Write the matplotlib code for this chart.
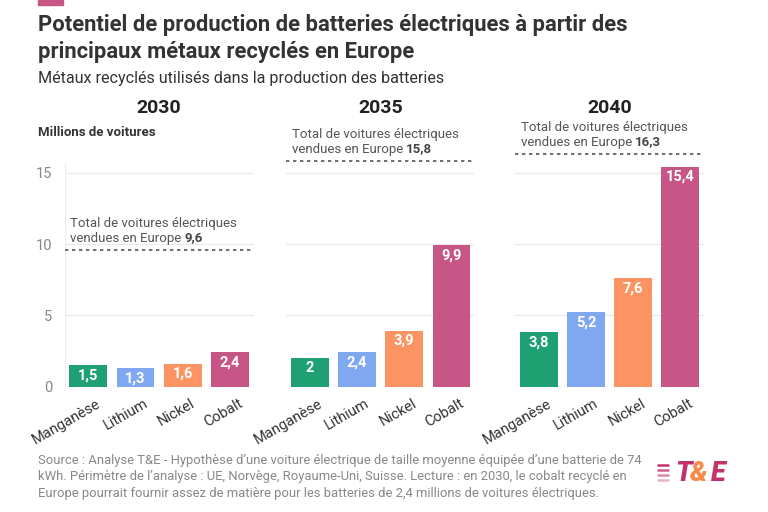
import matplotlib
matplotlib.use("Agg")
import matplotlib.pyplot as plt
from matplotlib.patches import Rectangle
import matplotlib.transforms as mtransforms

plt.rcParams['font.family'] = ['Roboto', 'DejaVu Sans']

# ---- data ----
years = ["2030", "2035", "2040"]
metals = ["Manganèse", "Lithium", "Nickel", "Cobalt"]
values_2030 = [1.5, 1.3, 1.6, 2.4]
values_2035 = [2.0, 2.4, 3.9, 9.9]
values_2040 = [3.8, 5.2, 7.6, 15.4]
totals = [9.6, 15.8, 16.3]
total_labels = ["9,6", "15,8", "16,3"]
yticks = [0, 5, 10, 15]
colors = ["#1fa072", "#80a8f0", "#fc9362", "#c75585"]

all_values = [values_2030, values_2035, values_2040]

W, H = 768, 512
fig = plt.figure(figsize=(W / 100, H / 100), dpi=100)
fig.patch.set_facecolor("white")

def fx(px):
    return px / W

def fy(py):
    return 1 - py / H

# top pink mark
fig.patches.append(Rectangle((fx(38), fy(5)), fx(63) - fx(38), 5 / H,
                             transform=fig.transFigure, color="#c75585"))

fig.text(fx(38), fy(31), "Potentiel de production de batteries électriques à partir des",
         fontsize=15.8, fontweight="bold", color="#333333", va="baseline", ha="left")
fig.text(fx(38), fy(58), "principaux métaux recyclés en Europe",
         fontsize=15.8, fontweight="bold", color="#333333", va="baseline", ha="left")
fig.text(fx(38), fy(83), "Métaux recyclés utilisés dans la production des batteries",
         fontsize=11.6, color="#333333", va="baseline", ha="left")

lefts = [64.7, 286.2, 515.1]
step = 47.2
ax_w = 4 * step
bottom_px = 386.7
unit_px = 14.27
ymax = 17.0
ax_h = ymax * unit_px

for i, (yr, vals, tot, tlab, left) in enumerate(zip(years, all_values, totals, total_labels, lefts)):
    ax = fig.add_axes([fx(left), fy(bottom_px), ax_w / W, ax_h / H])
    ax.set_xlim(-0.5, 3.5)
    ax.set_ylim(0, ymax)
    for s in ax.spines.values():
        s.set_visible(False)
    ax.set_yticks(yticks)
    for y in yticks:
        ax.axhline(y, color="#ebebeb", lw=1, zorder=0)
    if i == 0:
        ax.axvline(-0.5, ymax=15.7 / ymax, color="#eeeeee", lw=1, zorder=0)
        ax.set_yticklabels([str(t) for t in yticks], fontsize=10.5, color="#888888")
        ax.tick_params(axis="y", length=0, pad=9)
    else:
        ax.set_yticklabels([])
        ax.tick_params(axis="y", length=0)
    x = list(range(len(metals)))
    bars = ax.bar(x, vals, width=0.8, color=colors, zorder=2)
    for b, v in zip(bars, vals):
        lab = f"{v:g}".replace(".", ",")
        ax.annotate(lab, xy=(b.get_x() + b.get_width() / 2, v), xytext=(0, -10),
                    textcoords="offset pixels", ha="center", va="center",
                    color="white", fontsize=10.5, fontweight="bold", zorder=3)
    ax.set_xticks(x)
    ax.set_xticklabels(metals, rotation=30, ha="right", va="top",
                       rotation_mode="anchor", fontsize=10.5, color="#333333")
    ax.tick_params(axis="x", length=0, pad=7)
    offset = mtransforms.ScaledTranslation(8 / 100, 0, fig.dpi_scale_trans)
    for lbl in ax.get_xticklabels():
        lbl.set_transform(lbl.get_transform() + offset)

    # total dashed line
    ax.hlines(tot, -0.5, 3.5, colors="#555555", linestyles=(0, (2, 2.2)), lw=1.2, zorder=1)
    tx = -0.5 + 5.5 / step
    t2 = ax.annotate("vendues en Europe ", xy=(tx, tot), xytext=(0, 5),
                     textcoords="offset pixels", ha="left", va="bottom",
                     fontsize=9.5, color="#555555", annotation_clip=False)
    ax.annotate("Total de voitures électriques", xy=(0, 1), xycoords=t2,
                xytext=(0, 2), textcoords="offset pixels", ha="left", va="bottom",
                fontsize=9.5, color="#555555", annotation_clip=False)
    ax.annotate(tlab, xy=(1, 0), xycoords=t2, xytext=(0, 1), textcoords="offset pixels",
                ha="left", va="bottom",
                fontsize=9.5, color="#444444", fontweight="bold", annotation_clip=False)

    # year header
    fig.text(fx(left + ax_w / 2), fy(108), yr, fontsize=14, fontweight="bold",
             color="#222222", ha="center", va="center")

fig.text(fx(38), fy(133), "Millions de voitures", fontsize=9.5, fontweight="bold",
         color="#333333", ha="left", va="center")

footer = ("Source : Analyse T&E - Hypothèse d’une voiture électrique de taille moyenne équipée d’une batterie de 74\n"
          "kWh. Périmètre de l’analyse : UE, Norvège, Royaume-Uni, Suisse. Lecture : en 2030, le cobalt recyclé en\n"
          "Europe pourrait fournir assez de matière pour les batteries de 2,4 millions de voitures électriques.")
fig.text(fx(38), fy(454), footer, fontsize=9.4, color="#888888", ha="left", va="top",
         linespacing=1.33)

# logo
for k, c in enumerate(["#c2336e", "#cf5f8c", "#dc8aab", "#e8b3c9"]):
    yy = 464.5 + k * 5
    fig.lines.append(plt.Line2D([fx(657), fx(669)], [fy(yy), fy(yy)],
                                transform=fig.transFigure, color=c, lw=1.8,
                                solid_capstyle="butt"))
fig.text(fx(675), fy(481), "T", fontsize=19.5, fontweight="black", fontstyle="italic",
         color="#c2336e", ha="left", va="baseline")
fig.text(fx(690), fy(481), "&", fontsize=19.5, fontweight="black", fontstyle="italic",
         color="#f58a4a", ha="left", va="baseline")
fig.text(fx(711), fy(481), "E", fontsize=19.5, fontweight="black", fontstyle="italic",
         color="#c2336e", ha="left", va="baseline")

fig.savefig("out.png", dpi=100, facecolor="white")
